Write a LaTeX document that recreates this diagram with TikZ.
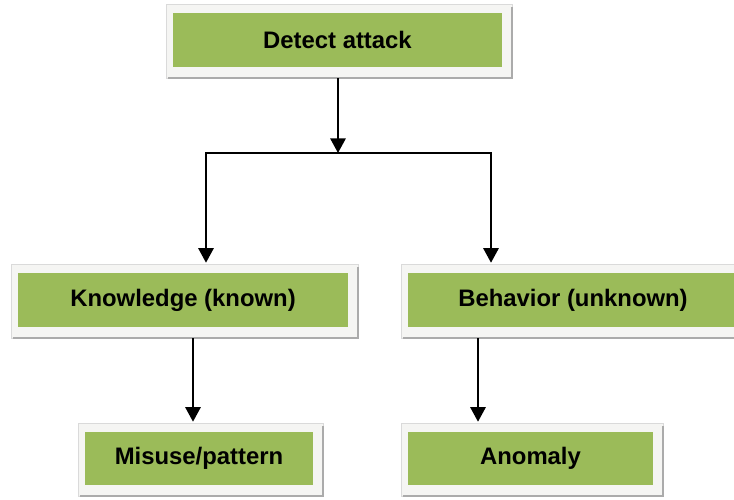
\documentclass[tikz,border=0pt]{standalone}
\usepackage{fontspec}
\setmainfont{Liberation Sans}
\usetikzlibrary{arrows.meta,calc,backgrounds}
\definecolor{boxgreen}{HTML}{9BBB59}
\definecolor{framefill}{HTML}{F5F5F3}
\definecolor{frameline}{HTML}{DADADA}
\definecolor{frameshadow}{HTML}{ABABAB}
\begin{document}
\begin{tikzpicture}[x=0.75pt,y=0.75pt,
  card/.style={fill=boxgreen, inner sep=0pt, minimum height=54*0.75pt,
    font=\fontsize{17.9}{20}\selectfont\bfseries},
  link/.style={line width=1.6pt, black},
  tip/.style={link, -{Triangle[width=11.5pt,length=11pt]}},
  frame/.style={fill=framefill, draw=frameline, line width=0.6pt},
  shadowline/.style={draw=frameshadow, line width=1.4pt}]
\useasboundingbox (0,0) rectangle (734,499);

% green boxes
\node[card, minimum width=329*0.75pt] (d) at (337.5,459) {Detect attack};
\node[card, minimum width=330*0.75pt] (k) at (183,199) {Knowledge (known)};
\node[card, minimum width=330*0.75pt] (b) at (573,199) {Behavior (unknown)};
\node[card, minimum width=228*0.75pt, minimum height=53*0.75pt] (m) at (199,40.5) {Misuse/pattern};
\node[card, minimum width=245*0.75pt, minimum height=53*0.75pt] (a) at (530.5,40.5) {Anomaly};

% light frames with a soft shadow behind each box
\begin{scope}[on background layer]
\foreach \n in {d,k,b,m,a}{
  \path[frame] ($(\n.south west)+(-6,-11)$) rectangle ($(\n.north east)+(10,8)$);
  \draw[shadowline] ($(\n.south west)+(-5,-11)$) -- ($(\n.south east)+(10,-11)$)
                    -- ($(\n.north east)+(10,6)$);
}
\end{scope}

% branching connectors
\coordinate (j)  at (338,346);
\coordinate (jl) at (206,346);
\coordinate (jr) at (491,346);
\draw[tip] ($(d.south)+(0.5,-11)$) -- (j);
\draw[link, line cap=rect] (jl) -- (jr);
\draw[tip] (jl) -- ($(jl |- k.north)+(0,10)$);
\draw[tip] (jr) -- ($(jr |- b.north)+(0,10)$);
\coordinate (kl) at (193,0);
\coordinate (br) at (478,0);
\draw[tip] ($(kl |- k.south)+(0,-11)$) -- ($(kl |- m.north)+(0,10)$);
\draw[tip] ($(br |- b.south)+(0,-11)$) -- ($(br |- a.north)+(0,10)$);
\end{tikzpicture}
\end{document}
